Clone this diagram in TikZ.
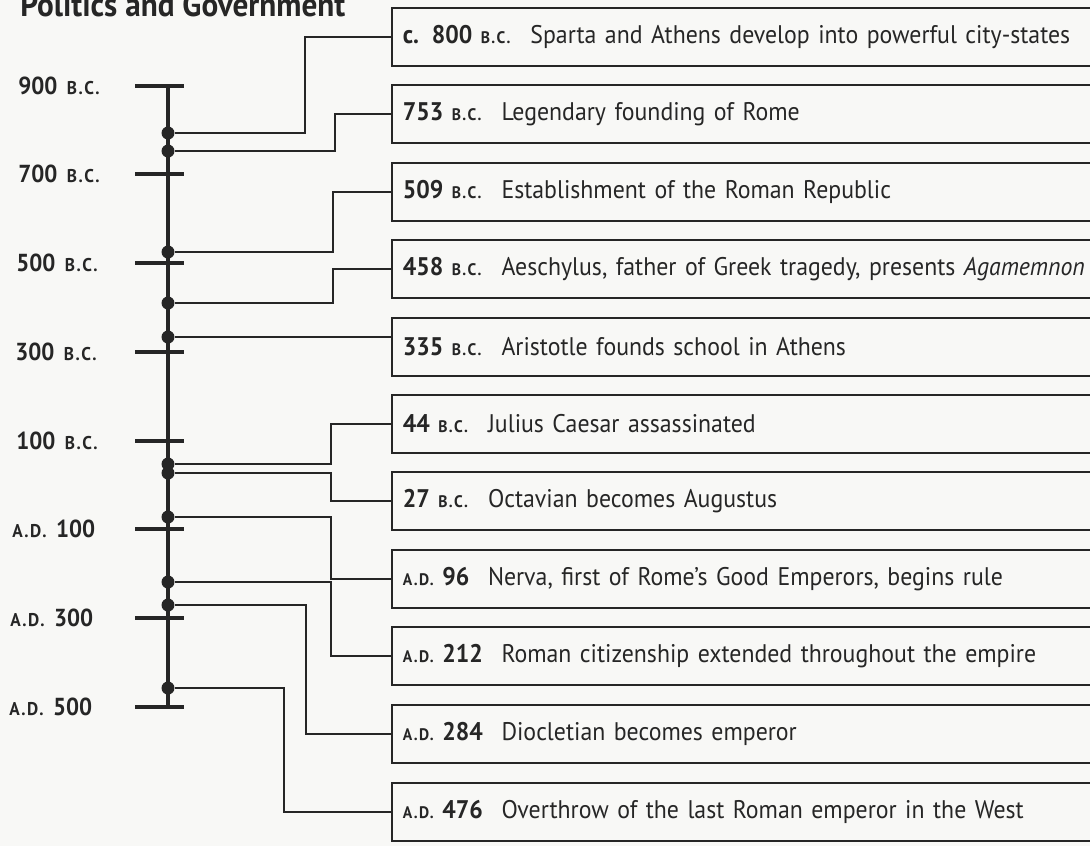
\documentclass[tikz,border=0pt]{standalone}
\usepackage{fontspec}
\setmainfont{PT Sans}[FakeStretch=0.935]
\usetikzlibrary{calc}

\definecolor{ink}{HTML}{262626}
\definecolor{paper}{HTML}{F8F8F6}
\newcommand{\eraSC}[2]{{\fontsize{#1}{10pt}\selectfont\addfontfeature{LetterSpace=8}#2}}
\newcommand{\eraBC}{\eraSC{9.5pt}{B.C.}}
\newcommand{\eraAD}{\eraSC{9.5pt}{A.D.}}
\newcommand{\when}[1]{\textbf{#1}\hspace{0.4em}}

\tikzset{
  event/.style={draw=ink, line width=1pt, anchor=west, text=ink,
    minimum height=1.16cm, text width=16cm, inner xsep=0.22cm, align=left,
    font=\fontsize{14.5pt}{17pt}\selectfont},
  era/.style={anchor=west, text=ink, inner sep=0pt, font=\fontsize{14pt}{16pt}\selectfont\bfseries},
  dot/.style={circle, fill=ink, inner sep=0pt, minimum size=0.26cm},
  link/.style={draw=ink, line width=0.8pt},
  tick/.style={draw=ink, line width=2.3pt},
}

\begin{document}
\begin{tikzpicture}[x=0.02cm, y=-0.02cm]
  \useasboundingbox (0,0) rectangle (1090,846);
  \clip (0,0) rectangle (1090,846);
  \fill[paper] (0,0) rectangle (1090,846); %paper
  \node[text=ink, anchor=base west, inner sep=0pt, font=\fontsize{19pt}{22pt}\selectfont\bfseries] (ttl) at (20,16) {Politics and Government}; %title

  \draw[ink, line width=2.8pt] (168,86)--(168,707); %axis
  \draw[tick] (135,86)--(184,86); %900 B.C.
  \draw[tick] (135,174)--(184,174); %700 B.C.
  \draw[tick] (135,263)--(184,263); %500 B.C.
  \draw[tick] (135,352)--(184,352); %300 B.C.
  \draw[tick] (135,441)--(184,441); %100 B.C.
  \draw[tick] (135,529)--(184,529); %A.D. 100
  \draw[tick] (135,618)--(184,618); %A.D. 300
  \draw[tick] (135,707)--(184,707); %A.D. 500
  \node[era] (l900) at (18,86) {900\hspace{0.15em} \eraSC{10.5pt}{B.C.}};
  \node[era] (l700) at (18,174) {700\hspace{0.15em} \eraSC{10.5pt}{B.C.}};
  \node[era] (l500) at (16,263) {500\hspace{0.15em} \eraSC{10.5pt}{B.C.}};
  \node[era] (l300) at (15,352) {300\hspace{0.15em} \eraSC{10.5pt}{B.C.}};
  \node[era] (l100) at (16,441) {100\hspace{0.15em} \eraSC{10.5pt}{B.C.}};
  \node[era] (a100) at (12,529) {\eraSC{10.5pt}{A.D.}\hspace{0.15em} 100};
  \node[era] (a300) at (10,618) {\eraSC{10.5pt}{A.D.}\hspace{0.15em} 300};
  \node[era] (a500) at (9,707) {\eraSC{10.5pt}{A.D.}\hspace{0.15em} 500};

  \node[event] (e1) at (391,37) {\when{c. 800 \eraBC} Sparta and Athens develop into powerful city-states};
  \node[event] (e2) at (391,114) {\when{753 \eraBC} Legendary founding of Rome};
  \node[event] (e3) at (391,192) {\when{509 \eraBC} Establishment of the Roman Republic};
  \node[event] (e4) at (391,269) {\when{458 \eraBC} Aeschylus, father of Greek tragedy, presents \textit{Agamemnon}};
  \node[event] (e5) at (391,347) {\when{335 \eraBC} Aristotle founds school in Athens};
  \node[event] (e6) at (391,424) {\when{44 \eraBC} Julius Caesar assassinated};
  \node[event] (e7) at (391,501) {\when{27 \eraBC} Octavian becomes Augustus};
  \node[event] (e8) at (391,579) {\when{\eraAD\ 96} Nerva, first of Rome’s Good Emperors, begins rule};
  \node[event] (e9) at (391,656) {\when{\eraAD\ 212} Roman citizenship extended throughout the empire};
  \node[event] (e10) at (391,734) {\when{\eraAD\ 284} Diocletian becomes emperor};
  \node[event] (e11) at (391,812) {\when{\eraAD\ 476} Overthrow of the last Roman emperor in the West};

  \coordinate (k1) at (305,0); %bend
  \coordinate (k2) at (335,0);
  \coordinate (k3) at (333,0);
  \coordinate (k6) at (331,0);
  \coordinate (k10) at (306,0);
  \coordinate (k11) at (284,0);

  \node[dot] (d1) at (168,133) {};
  \node[dot] (d2) at (168,151) {};
  \node[dot] (d3) at (168,252) {};
  \node[dot] (d4) at (168,303) {};
  \node[dot] (d5) at (168,337) {};
  \node[dot] (d6) at (168,464) {};
  \node[dot] (d7) at (168,473) {};
  \node[dot] (d8) at (168,517) {};
  \node[dot] (d9) at (168,582) {};
  \node[dot] (d10) at (168,605) {};
  \node[dot] (d11) at (168,688) {};

  \draw[link] (d1)--(d1 -| k1) |- (e1.west);
  \draw[link] (d2)--(d2 -| k2) |- (e2.west);
  \draw[link] (d3)--(d3 -| k3) |- (e3.west);
  \draw[link] (d4)--(d4 -| k3) |- (e4.west);
  \draw[link] (d5)--(d5 -| e5.west);
  \draw[link] (d6)--(d6 -| k6) |- (e6.west);
  \draw[link] (d7)--(d7 -| k6) |- (e7.west);
  \draw[link] (d8)--(d8 -| k6) |- (e8.west);
  \draw[link] (d9)--(d9 -| k6) |- (e9.west);
  \draw[link] (d10)--(d10 -| k10) |- (e10.west);
  \draw[link] (d11)--(d11 -| k11) |- (e11.west);
\end{tikzpicture}
\end{document}
